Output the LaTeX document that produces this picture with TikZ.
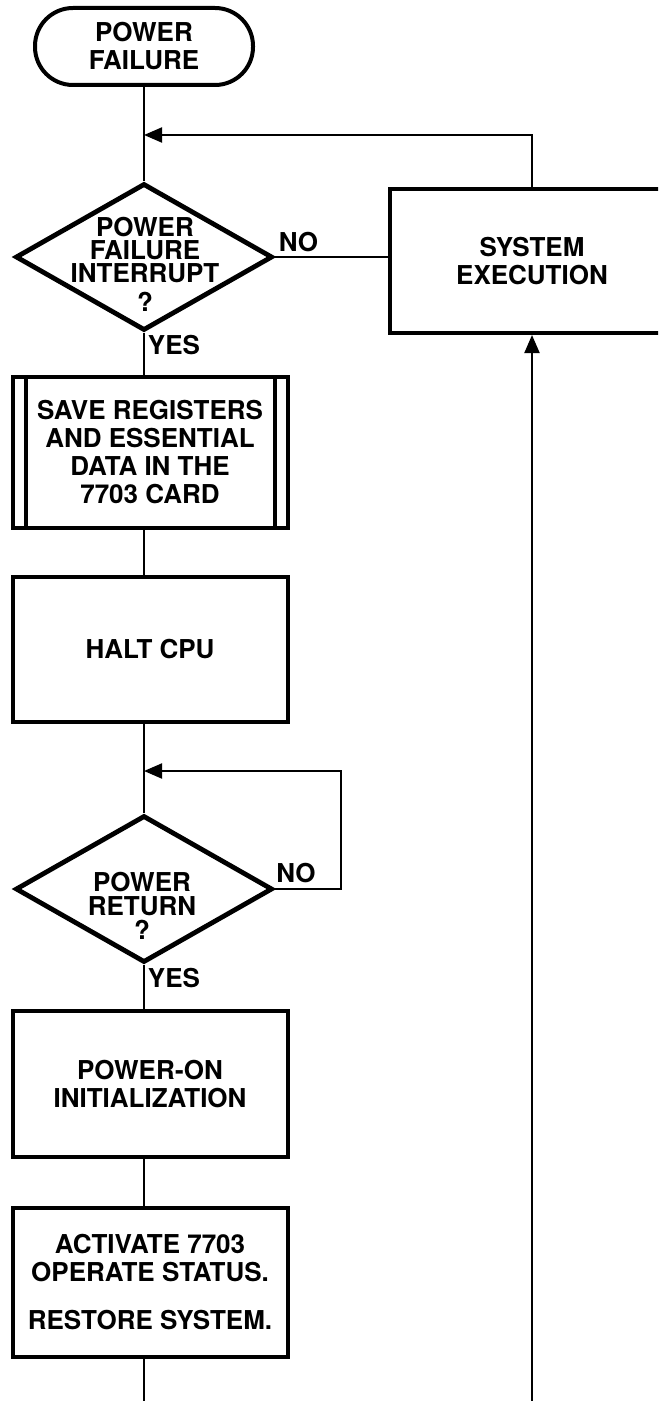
\documentclass[tikz,border=0pt]{standalone}
\usepackage{fontspec}
\setmainfont{TeX Gyre Heros}
\usetikzlibrary{shapes.geometric,arrows.meta}

\begin{document}
\begin{tikzpicture}[x=0.5pt, y=-0.5pt, >={Triangle[length=9pt,width=7.5pt]},
  every node/.style={font=\bfseries\fontsize{13}{14}\selectfont, align=center},
  term/.style={draw, line width=2pt, rounded corners=19pt, minimum width=109pt, minimum height=38.5pt, inner sep=0pt},
  procbox/.style={draw, line width=2pt, minimum width=137.5pt, inner sep=0pt},
  decision/.style={draw, diamond, line width=2.4pt, minimum width=128.5pt, minimum height=73.5pt, inner sep=0pt},
  flow/.style={line width=1pt}]

  \useasboundingbox (0,0) rectangle (658,1401);
  \clip (0,0) rectangle (658,1401);

  \coordinate (M) at (144,0);
  \coordinate (J1) at (144,135);
  \coordinate (J2) at (144,771);
  \coordinate (L2) at (341,771);
  \coordinate (endL) at (144,1401);
  \coordinate (endR) at (532,1401);

  \node[term] (start) at (144,46.5) {POWER\\FAILURE};
  \node[decision] (dec1) at (144,257) {};
  \node[font=\bfseries\fontsize{13}{11.5}\selectfont] (q1) at (145,264) {POWER\\FAILURE\\INTERRUPT\\[3pt]?};
  \node[procbox, minimum height=75.5pt] (save) at (150,452.5) {SAVE REGISTERS\\AND ESSENTIAL\\DATA IN THE\\7703 CARD};
  \draw[line width=2pt] ([xshift=7.5pt]save.north west) -- ([xshift=7.5pt]save.south west);
  \draw[line width=2pt] ([xshift=-7.5pt]save.north east) -- ([xshift=-7.5pt]save.south east);
  \node[procbox, minimum height=72.5pt] (halt) at (150,649.5) {HALT CPU};
  \node[decision] (dec2) at (144,889) {};
  \node[font=\bfseries\fontsize{13}{12}\selectfont] (q2) at (142,906) {POWER\\RETURN\\?};
  \node[procbox, minimum height=73pt] (init) at (150,1084) {POWER-ON\\INITIALIZATION};
  \node[procbox, minimum height=74.5pt] (act) at (150,1282.5) {ACTIVATE 7703\\OPERATE STATUS.\\[10pt]RESTORE SYSTEM.};
  \node[procbox, minimum width=142pt, minimum height=72pt] (sys) at (532,261) {SYSTEM\\EXECUTION};

  \node (no1) at (298.5,242) {NO};
  \node (yes1) at (174,345) {YES};
  \node (no2) at (296,873) {NO};
  \node (yes2) at (174,978) {YES};

  \draw[flow] (start) -- (dec1);
  \draw[flow,->] (sys.north) |- (J1);
  \draw[flow] (dec1.east) -- (dec1.east -| sys.west);
  \draw[flow] (dec1.south) -- (save.north -| M);
  \draw[flow] (save.south -| M) -- (halt.north -| M);
  \draw[flow] (halt.south -| M) -- (dec2.north);
  \draw[flow,->] (dec2.east) -| (L2) -- (J2);
  \draw[flow] (dec2.south) -- (init.north -| M);
  \draw[flow] (init.south -| M) -- (act.north -| M);
  \draw[flow] (act.south -| M) -- (endL);
  \draw[flow,->] (endR) -- (sys.south);
\end{tikzpicture}
\end{document}
